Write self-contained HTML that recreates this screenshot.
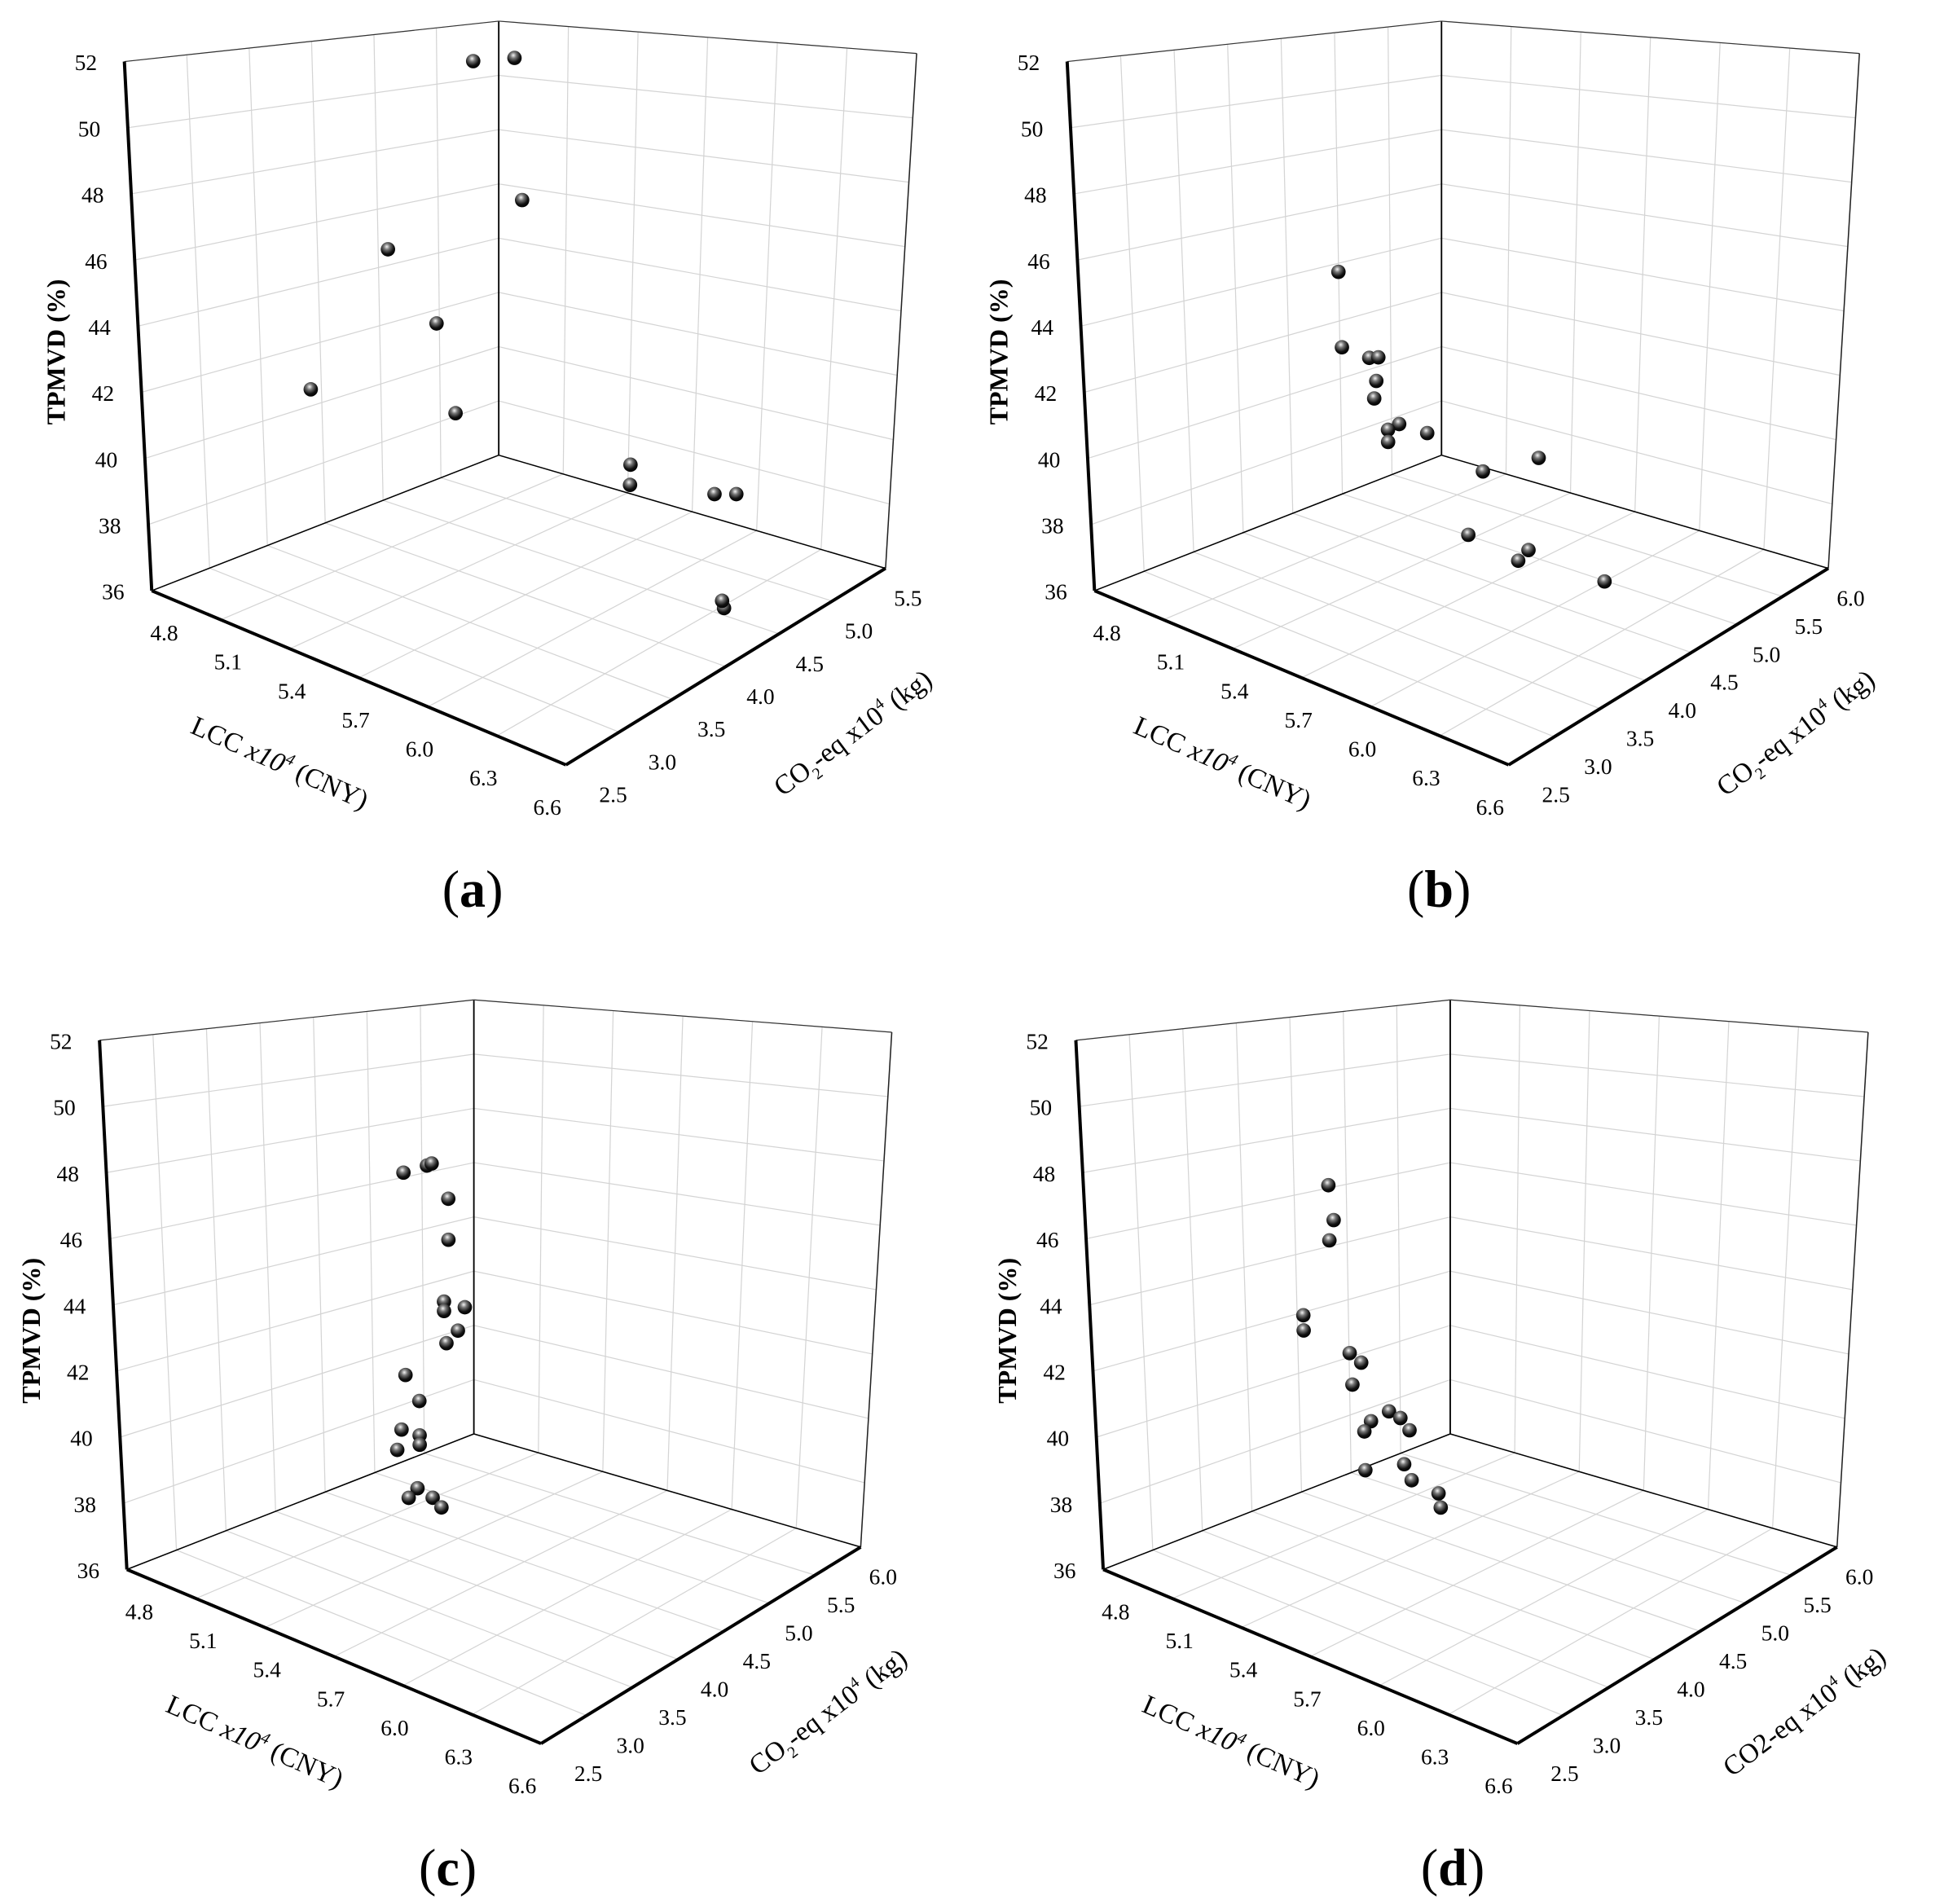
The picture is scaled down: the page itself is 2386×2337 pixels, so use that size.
<!DOCTYPE html>
<html><head><meta charset="utf-8"><style>
html,body{margin:0;padding:0;background:#fff;}
svg{display:block;}
text{font-family:"Liberation Serif",serif;fill:#000;}
</style></head><body>
<svg id="fig" width="2386" height="2337" viewBox="0 0 1563 1531" preserveAspectRatio="none" xmlns="http://www.w3.org/2000/svg">
<defs>
<radialGradient id="ball" cx="0.42" cy="0.32" r="0.7">
<stop offset="0" stop-color="#f4f4f4"/><stop offset="0.3" stop-color="#777"/><stop offset="0.7" stop-color="#111"/><stop offset="1" stop-color="#000"/>
</radialGradient>
</defs>
</svg>
<script>
// ---- data ----
const lccTicks=[4.8,5.1,5.4,5.7,6.0,6.3,6.6];
const tpTicks=[36,38,40,42,44,46,48,50,52];
const co2TicksA=[2.5,3.0,3.5,4.0,4.5,5.0,5.5];
const co2TicksB=[2.5,3.0,3.5,4.0,4.5,5.0,5.5,6.0];

const lccA=[5.32,5.34,5.22,5.41,5.31,5.22,5.39,5.41,5.41,5.80,5.90,6.33,6.32];
const co2A=[4.3,4.6,4.9,3.4,4.0,3.1,4.0,5.5,5.5,5.5,5.5,4.54,4.54];
const tpA=[51.9,51.8,46.6,46.9,43.7,42.5,41.0,37.0,36.3,36.8,37.0,36.1,36.3];

const lccB=[5.25,5.02,5.37,5.65,5.67,6.00,5.21,4.98,4.99,5.11,5.15,5.14,5.13,5.24,5.19,5.19];
const co2B=[6.0,5.94,5.01,4.89,4.95,4.99,4.95,4.6,4.6,4.6,4.6,4.6,4.6,4.6,4.6,4.6];
const tpB=[36.9,36.0,36.0,36.0,36.3,36.0,39.1,44.4,41.9,41.8,41.9,41.1,40.5,39.9,39.6,39.2];

const lccC=[5.04,5.04,5.10,5.18,5.28,5.38,5.40,5.47,5.47,5.45,5.45,5.54,5.51,5.46,5.28,5.34,5.26,5.34,5.34,5.24];
const co2C=[4.90,4.81,4.92,4.83,4.25,4.25,4.25,4.25,4.25,4.25,4.25,4.25,4.25,4.25,4.25,4.25,4.25,4.25,4.25,4.25];
const tpC=[36.2,36.0,36.0,36.0,47.8,48.2,48.3,47.3,46.0,44.0,43.7,44.0,43.2,42.7,41.3,40.6,39.5,39.5,39.2,38.8];

const lccD=[5.15,5.24,5.00,4.88,4.82,5.06,5.08,5.06,4.94,4.94,5.14,5.19,5.15,5.31,5.23,5.36,5.20,5.40];
const co2D=[5.11,4.93,5.17,5.36,5.10,4.25,4.25,4.25,4.25,4.25,4.25,4.25,4.25,4.25,4.25,4.25,4.25,4.25];
const tpD=[36.0,36.0,36.0,36.0,36.0,47.0,45.9,45.2,42.5,42.0,41.7,41.5,40.7,40.2,39.7,40.1,39.3,39.8];

// ---- geometry ----
const F00=[122,475],F10=[455,615],F01=[401,366],F11=[712,457];
const T00=[100,49.5],T10=[460,155],T01=[401,17],T11=[737,43];
const NS='http://www.w3.org/2000/svg';
const svg=document.getElementById('fig');
function bl(a,b,c,d,s,t){return [a[0]*(1-s)*(1-t)+b[0]*s*(1-t)+c[0]*(1-s)*t+d[0]*s*t, a[1]*(1-s)*(1-t)+b[1]*s*(1-t)+c[1]*(1-s)*t+d[1]*s*t];}
function P(s,t,h,o){const f=bl(F00,F10,F01,F11,s,t),u=bl(T00,T10,T01,T11,s,t);return [o[0]+f[0]+(u[0]-f[0])*h,o[1]+f[1]+(u[1]-f[1])*h];}
function mk(tag,attrs,parent){const e=document.createElementNS(NS,tag);for(const k in attrs)e.setAttribute(k,attrs[k]);(parent||svg).appendChild(e);return e;}
function line(g,a,b,col,w,name){const l=mk('line',{x1:a[0],y1:a[1],x2:b[0],y2:b[1],stroke:col,'stroke-width':w},g);

return l;}
function txt(g,x,y,str,size,name,extra){const t=mk('text',Object.assign({x:x,y:y,'font-size':size,'text-anchor':'middle'},extra||{}),g);t.textContent=str;

return t;}

const panels=[
 {id:'a',off:[0,0],co2Ticks:co2TicksA,lcc:lccA,co2:co2A,tp:tpA,sub:true,letter:[380,715]},
 {id:'b',off:[758,0],co2Ticks:co2TicksB,lcc:lccB,co2:co2B,tp:tpB,sub:true,letter:[1157,715]},
 {id:'c',off:[-20,787],co2Ticks:co2TicksB,lcc:lccC,co2:co2C,tp:tpC,sub:true,letter:[360,1502]},
 {id:'d',off:[765,787],co2Ticks:co2TicksB,lcc:lccD,co2:co2D,tp:tpD,sub:false,letter:[1168,1502]}
];

panels.forEach(p=>{
 const o=p.off;
 const g=mk('g',{});
 
 
 const c0=p.co2Ticks[0],c1=p.co2Ticks[p.co2Ticks.length-1];
 const S=v=>(v-4.8)/1.8, T=v=>(v-c0)/(c1-c0), H=v=>(v-36)/16;
 const grid='#d4d4d4';
 p.co2Ticks.forEach(c=>line(g,P(0,T(c),0,o),P(0,T(c),1,o),grid,0.8,'left-wall-gridline'));
 tpTicks.forEach(z=>line(g,P(0,0,H(z),o),P(0,1,H(z),o),grid,0.8,'left-wall-gridline'));
 lccTicks.forEach(l=>line(g,P(S(l),1,0,o),P(S(l),1,1,o),grid,0.8,'right-wall-gridline'));
 tpTicks.forEach(z=>line(g,P(0,1,H(z),o),P(1,1,H(z),o),grid,0.8,'right-wall-gridline'));
 lccTicks.forEach(l=>line(g,P(S(l),0,0,o),P(S(l),1,0,o),grid,0.8,'floor-gridline'));
 p.co2Ticks.forEach(c=>line(g,P(0,T(c),0,o),P(1,T(c),0,o),grid,0.8,'floor-gridline'));
 line(g,P(0,1,0,o),P(0,1,1,o),'#000',1.2,'back-edge');
 line(g,P(1,1,0,o),P(1,1,1,o),'#222',1,'right-edge');
 line(g,P(0,0,1,o),P(0,1,1,o),'#333',0.8,'top-edge');
 line(g,P(0,1,1,o),P(1,1,1,o),'#333',0.8,'top-edge');
 line(g,P(0,0,0,o),P(0,1,0,o),'#000',1,'floor-back-edge');
 line(g,P(0,1,0,o),P(1,1,0,o),'#000',1,'floor-back-edge');
 line(g,P(0,0,0,o),P(0,0,1,o),'#000',2.6,'z-axis');
 line(g,P(0,0,0,o),P(1,0,0,o),'#000',2.6,'lcc-axis');
 line(g,P(1,0,0,o),P(1,1,0,o),'#000',2.6,'co2-axis');
 tpTicks.forEach(z=>{const q=P(0,0,H(z),o);txt(g,q[0]-22,q[1]+7,String(z),18,'z-tick-label',{'text-anchor':'end'});});
 lccTicks.forEach((l,i)=>{const s=S(l),q=P(s,0,0,o);txt(g,q[0]+10-25*s,q[1]+40,l.toFixed(1),18,'lcc-tick-label');});
 p.co2Ticks.forEach(c=>{const t=T(c),q=P(1,t,0,o);txt(g,q[0]+38-20*t,q[1]+30,c.toFixed(1),18,'co2-tick-label');});
 txt(g,o[0]+52,o[1]+283,'TPMVD (%)',21,'z-axis-title',{transform:'rotate(-90 '+(o[0]+52)+' '+(o[1]+283)+')','font-weight':'bold'});
 const lt=txt(g,o[0]+222,o[1]+620,'',22,'lcc-axis-title',{transform:'rotate(24 '+(o[0]+222)+' '+(o[1]+620)+')'});
 lt.innerHTML='LCC <tspan font-style="italic">x10</tspan><tspan font-size="13" dy="-9" font-style="italic">4</tspan><tspan dy="9"> (CNY)</tspan>';
 const ct=txt(g,o[0]+690,o[1]+595,'',22,'co2-axis-title',{transform:'rotate(-37 '+(o[0]+690)+' '+(o[1]+595)+')'});
 ct.innerHTML=p.sub?'CO<tspan font-size="13" dy="6">2</tspan><tspan dy="-6">-eq x10</tspan><tspan font-size="13" dy="-9">4</tspan><tspan dy="9"> (kg)</tspan>':'CO2-eq x10<tspan font-size="13" dy="-9">4</tspan><tspan dy="9"> (kg)</tspan>';
 const pl=txt(g,p.letter[0],p.letter[1]+14,'',42,'panel-label');
 pl.innerHTML='(<tspan font-weight="bold">'+p.id+'</tspan>)';
 p.lcc.forEach((l,i)=>{const q=P(S(l),T(p.co2[i]),H(p.tp[i]),o);
  const c=mk('circle',{cx:q[0],cy:q[1],r:5.8,fill:'url(#ball)'},g);
  
  });
});
</script>
</body></html>
